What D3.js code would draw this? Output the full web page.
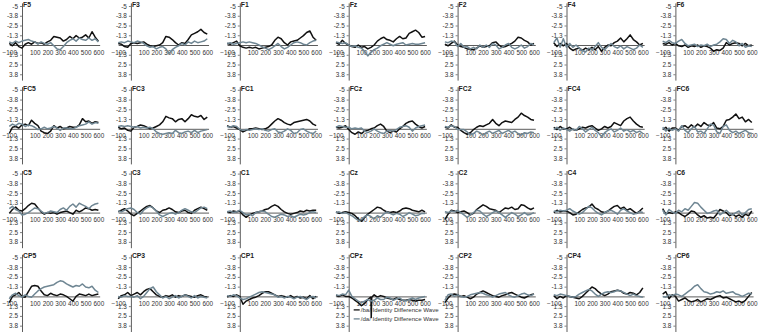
<!DOCTYPE html>
<html>
<head>
<meta charset="utf-8">
<script src="https://cdn.jsdelivr.net/npm/d3@7"></script>
<style>
  body { margin: 0; background: #fff; }
  svg { display: block; font-family: "Liberation Sans", Arial, sans-serif; }
</style>
</head>
<body>
<div id="chart"></div>
<script>
// electrode sites, row by row
const electrodes = [
    "F5", "F3", "F1", "Fz", "F2", "F4", "F6",
    "FC5", "FC3", "FC1", "FCz", "FC2", "FC4", "FC6",
    "C5", "C3", "C1", "Cz", "C2", "C4", "C6",
    "CP5", "CP3", "CP1", "CPz", "CP2", "CP4", "CP6"
];

// sample times (ms), every 25 ms from -100 to 600
const times = d3.range(-100, 601, 25);

const xTicks = [-100, 100, 200, 300, 400, 500, 600];
const yTicks = [-5, -3.75, -2.5, -1.25, 1.25, 2.5, 3.75];
const yTickLabels = ["-5", "-3.8", "-2.5", "-1.3", "1.3", "2.5", "3.8"];

const legendLabels = ["/ba/ Identity Difference Wave", "/da/ Identity Difference Wave"];

// /ba/ difference wave (black), one row per electrode
const baWaves = [
    [-0.2,0.1,-0.3,0.2,0.4,-0.1,-0.3,-0.1,-0.4,-0.2,-0.3,-0.1,-0.4,-0.6,-1.1,-1.0,-0.9,-0.5,-0.7,-1.1,-0.8,-1.2,-0.9,-1.0,-1.3,-0.9,-1.7,-1.0,-0.5], // F5
    [-0.2,-0.1,0.2,0.3,-0.2,-0.3,-0.2,-0.3,-0.4,-0.1,0.1,0.2,0.1,0,-0.3,-1.1,-1.0,-0.7,-0.3,0,-0.3,-0.2,-0.7,-1.3,-1.5,-1.7,-2.0,-1.6,-1.4], // F3
    [-0.2,-0.1,-0.3,-0.5,0.1,0.3,0.4,0.3,0.4,0.3,0.5,0.4,0.3,0.2,0,-0.6,-1.0,-0.8,-0.3,0,-0.4,-0.5,-0.6,-0.9,-1.2,-1.6,-1.8,-1.0,-0.6], // F1
    [-0.3,-0.1,-0.6,-0.2,0,0.2,0.3,0,0.3,0.2,0.5,0.3,0,-0.5,-0.8,-1.0,-0.7,-0.6,-0.4,-0.8,-1.1,-0.8,-0.9,-1.5,-1.7,-1.9,-1.6,-1.0,-1.1], // Fz
    [-0.1,0.1,-0.2,-0.5,0,0.2,0.3,0.5,0.5,0.6,0.4,0.1,0.3,0.2,0.1,-0.3,-0.4,0,0.3,0.2,0,-0.2,-0.5,-1.0,-0.9,-0.6,-0.4,0,-0.2], // F2
    [-0.3,0.2,-0.2,0.1,-0.2,0.4,0.7,0.5,0.4,0.7,0.4,0.6,0.3,0.6,0.2,0.8,0.3,0,0.1,-0.3,-0.5,-0.9,-0.4,-0.8,-1.3,-0.7,-0.4,0,-0.2], // F4
    [-0.2,-0.1,-0.3,0,-0.2,0.1,0.2,0,0.3,0.1,0.2,0,0.3,0.1,0.2,0.4,0.8,0.6,0.7,0.4,-0.3,0,-0.2,-0.3,-0.2,0.1,-0.2,0.1,0], // F6
    [0.6,-0.2,-0.3,-0.1,-0.5,-0.6,-0.4,-1.1,-0.7,-0.4,0.3,0.5,0.6,0.3,-0.4,-0.1,-0.3,0,-0.1,-0.3,-0.2,-0.2,-0.5,-1.3,-0.9,-1.0,-0.7,-0.9,-0.8], // FC5
    [-0.2,0,-0.1,0.2,0.3,-0.2,-0.3,-0.5,-0.4,-0.2,0,-0.1,-0.3,-0.5,-0.9,-1.6,-1.4,-1.3,-0.9,-1.2,-1.3,-0.9,-1.3,-1.8,-1.6,-1.5,-1.7,-1.2,-1.5], // FC3
    [-0.4,-0.2,-0.3,-0.1,0.1,0.4,0.2,0,0,-0.1,0,0.1,0,-0.2,-0.6,-1.0,-1.3,-1.1,-0.8,-0.6,-0.5,-0.8,-0.9,-1.0,-1.1,-1.2,-1.0,-0.6,-0.4], // FC1
    [-0.2,-0.1,-0.2,-0.4,0.1,0.5,0.7,0.4,0.6,0.3,0.2,0,-0.1,-0.4,-0.6,-0.3,0.3,0.5,0.3,0.4,0,-0.3,-0.7,-0.9,-1.0,-0.6,-0.3,-0.1,-0.3], // FCz
    [-0.2,-0.1,-0.5,-0.2,-0.2,0.2,0.5,0.7,0.5,0.1,-0.2,-0.4,-0.3,-0.5,-0.7,-1.2,-0.7,-0.4,-0.8,-1.0,-0.9,-0.8,-1.2,-1.5,-2.0,-1.7,-1.5,-1.2,-1.1], // FC2
    [-0.2,0.1,-0.3,0,0,-0.2,0.1,0.2,0,-0.2,-0.1,-0.3,-0.4,-0.1,0.2,0,-0.3,-0.1,-0.3,-0.8,-0.6,-0.4,-1.0,-1.3,-1.5,-1.0,-0.6,-0.3,-0.2], // FC4
    [0.1,-0.2,0.3,-0.1,-0.1,0.2,-0.3,-0.4,-0.1,-0.5,-0.2,-0.6,-0.3,-0.8,-0.5,-0.4,-0.8,-0.1,0,-0.3,-1.1,-1.2,-1.5,-1.9,-1.3,-1.5,-0.9,-1.2,-0.8], // FC6
    [0.1,-0.4,-0.7,-0.3,-0.2,-0.5,-0.9,-1.2,-1.1,-0.6,-0.1,0.2,0,0.1,0,0.2,0,-0.1,-0.2,0,0.2,-0.3,-0.1,-0.3,-0.6,-0.5,-0.3,-0.4,-0.3], // C5
    [-0.1,-0.3,-0.5,-0.2,0.2,0.4,0.1,-0.2,-0.5,-0.8,-0.9,-0.6,-0.2,0,-0.3,-0.4,-0.6,-0.4,-0.1,0,-0.2,-0.3,0,0.1,-0.3,-0.5,-0.7,-0.5,-0.3], // C3
    [-0.1,0,-0.2,-0.1,-0.2,0.3,0.6,0.3,0.1,0,-0.1,-0.2,-0.4,-0.5,-0.8,-1.0,-0.8,-0.4,-0.1,0.1,0.2,0.1,0,-0.2,-0.1,-0.3,-0.2,-0.3,-0.3], // C1
    [-0.1,0.1,0,-0.1,0,0.1,0.4,0.8,1.1,0.6,0.2,-0.1,-0.4,-0.7,-0.6,-0.3,-0.1,0,-0.1,0,-0.2,-0.5,-0.6,-0.5,-0.3,-0.2,-0.1,-0.3,-0.1], // Cz
    [0.9,0.2,-0.3,-0.2,0,-0.1,-0.2,0,0.3,0.1,-0.4,-0.7,-1.0,-0.8,-0.5,-0.4,-0.3,0,-0.3,-0.6,-0.5,-0.7,-0.4,-0.5,-1.0,-0.9,-0.6,-0.4,-0.6], // C2
    [0,-0.3,-0.1,-0.2,-0.2,0,0.3,0.2,-0.1,-0.4,-0.6,-0.7,-1.1,-0.6,-0.4,-0.1,0,-0.2,-0.5,-0.8,-0.9,-0.5,-0.7,-0.3,-0.5,-0.2,0.1,-0.2,-0.6], // C4
    [-0.5,0.2,0,0.1,-0.1,0,0.3,0.5,0.2,-0.2,-0.1,0.3,0.6,0.4,0.7,0.6,0.7,0.2,-0.4,-0.2,0,0.4,0.2,0.5,0.3,0.6,0.2,0.4,-0.2], // C6
    [0.8,0,-0.2,-0.5,0,0.1,-0.6,-1.3,-1.4,-1.3,-0.7,-0.2,-0.1,-0.4,-0.2,-0.1,-0.3,-0.2,0,0.3,0.6,0,-0.3,-0.2,-0.1,-0.3,-0.1,-0.2,-0.3], // CP5
    [0.3,-0.1,-0.2,-0.5,-0.1,-0.3,-0.5,-0.2,-0.6,-0.9,-1.0,-0.6,-0.2,0,0.1,-0.1,0,-0.2,0.1,-0.1,0,-0.2,-0.1,0,0.1,-0.1,-0.2,0,0.1], // CP3
    [0.1,-0.1,0,-0.2,0,1.0,0.6,0.4,0.2,0.1,-0.1,-0.4,-0.6,-0.6,-0.4,-0.2,0,-0.1,0,0.1,-0.1,0.2,0,0.2,0.1,0.3,-0.1,0.3,0], // CP1
    [-0.1,0,-0.2,0,0,0.2,0.5,0.8,1.2,0.9,0.4,0.1,-0.2,0.1,-0.1,0,0.2,0.3,0.4,0.2,0.4,0.5,0.5,0.4,0.5,0.6,0.5,0.5,0.4], // CPz
    [0.8,0.2,-0.2,-0.3,-0.2,0,-0.1,0.1,0.3,0.1,-0.3,-0.5,-0.7,-0.5,-0.3,-0.1,0,0.1,-0.1,-0.2,-0.4,-0.5,-0.3,-0.1,0.1,0.2,0,-0.2,-0.3], // CP2
    [-0.1,0.3,0,0.2,-0.1,0,0.1,0.2,0.3,0,-0.4,-0.8,-1.2,-1.0,-0.6,-0.3,-0.1,-0.3,-0.6,-0.7,-0.8,-0.7,-0.4,-0.3,-0.5,-0.4,-0.2,-0.5,-1.1], // CP4
    [-0.3,-0.6,0.3,-0.2,0,0.6,0.4,0.2,0.5,0.7,0.6,0.4,0.7,0.5,0.3,0.4,0.2,0,-0.1,0.2,0.1,0.3,0.5,0.7,0.6,0.8,0.5,0,-0.5]  // CP6
];

// /da/ difference wave (grey)
const daWaves = [
    [-0.4,-0.2,-0.5,-0.3,-0.5,-0.6,-0.7,-0.5,-0.4,-0.1,-0.4,-0.2,-0.1,-0.3,0.1,0.5,0.6,0.2,-0.3,-0.6,-0.8,-0.5,-0.9,-0.7,-0.6,-0.9,-0.6,-0.8,-0.4], // F5
    [-0.3,-0.4,-0.3,-0.5,-0.4,-0.3,-0.5,-0.4,-0.2,0.1,0.3,0.2,0.5,0.3,0.2,0.5,1.1,0.6,0.3,0.1,-0.2,0,-0.4,-0.2,-0.5,-0.3,-0.4,-0.5,-0.8], // F3
    [-0.2,-0.3,-0.1,-0.2,-0.3,-0.4,-0.3,-0.4,-0.3,-0.2,0,0.2,0.4,0.6,0.4,0.1,-0.2,0.2,0.5,0.3,0,-0.3,-0.4,-0.3,-0.1,0,-0.3,-0.5,-0.6], // F1
    [-0.4,-0.3,-0.2,-0.3,0,0.2,0.1,0.3,0.4,0.8,1.4,0.9,0.6,0.4,0.1,-0.1,-0.3,-0.1,0.1,-0.1,-0.2,-0.3,0,-0.1,-0.2,-0.1,-0.1,-0.2,-0.3], // Fz
    [-0.4,-0.3,-0.5,-0.4,0.2,-0.2,0.3,0.2,0.5,0.3,0.5,0,0.3,0,0.3,-0.2,0,0.5,0.3,0,-0.2,0.3,0.5,0.3,0,0.4,0.2,-0.2,0], // F2
    [-0.3,-0.9,0.3,-0.8,0.3,-0.2,0.3,0,0.4,0.7,0.9,0.4,0.6,0.2,-0.3,0.3,0.6,0.2,-0.2,0.2,0.4,0.1,0.5,0.2,0.4,0.6,0.4,0,0.3], // F4
    [-0.5,-0.3,-0.6,-0.3,-0.2,-0.5,-0.7,-0.2,0.1,0,-0.1,0.2,0,0.1,-0.1,0.2,0,-0.1,-0.4,-0.8,-0.7,-0.2,-0.6,-0.4,0.1,-0.2,0.3,0.1,0.2], // F6
    [-0.3,-0.6,-0.4,-0.7,-0.6,-0.3,-0.5,-0.4,-0.2,0.1,0,-0.2,0,-0.1,-0.3,-0.1,0.2,-0.1,-0.1,0,0,-0.2,-0.4,-0.5,-0.6,-0.9,-0.6,-0.8,-0.7], // FC5
    [-0.3,-0.4,-0.3,-0.4,-0.3,-0.2,-0.3,-0.1,-0.2,-0.1,-0.2,0,0.4,0.6,0.7,0.6,0.5,0.6,0.2,0.5,0.6,0.4,0.3,0.5,0.2,0.5,0.3,0.2,0.1], // FC3
    [-0.3,-0.2,-0.4,-0.3,0.1,0.2,0.1,0.2,0.1,0,0.1,0,0.2,0.3,0.1,0,0.4,0.5,0.3,0,0.2,0.6,0.5,0.1,0,0.3,0.5,0.6,0.3], // FC1
    [-0.2,-0.4,-0.3,-0.2,-0.2,0,-0.1,0,-0.1,0.3,0.5,0.3,0,0.3,0.5,0.6,0.3,0.2,0.3,0.1,-0.2,-0.3,-0.4,-0.2,0.3,-0.1,-0.3,-0.4,-0.5], // FCz
    [-0.3,-0.2,-0.4,-0.3,0.1,0.1,0.1,0.4,0.8,0.6,0.3,0.5,0.8,0.5,0.3,0.6,0.4,0.2,0.6,0.4,0.2,0.5,0.3,0.6,0.8,0.5,0.6,0.4,0.5], // FC2
    [0.1,-0.2,0.2,-0.1,0.1,0.3,0,0.2,-0.3,0,0.4,0.1,-0.2,0.2,0.5,1.0,0.5,0.2,0,0.4,0.2,-0.1,0.3,0.1,0.4,0.2,0.5,0.3,0.6], // FC4
    [-0.2,0.3,-0.1,0.2,0,0.3,-0.4,0.2,0.5,0,-0.3,0.4,0.3,0.6,0,-0.6,-0.5,0.4,0.6,-0.3,-0.5,0.2,0.5,0.3,0.6,0.4,0.2,0.5,0.6], // FC6
    [-0.5,-0.8,-0.4,-0.2,0.3,0.2,0,-0.3,-0.6,-0.5,-0.2,0.1,0,-0.2,-0.1,0,-0.4,-0.6,-0.3,-0.8,-1.1,-0.7,-1.2,-1.0,-0.8,-0.5,-0.9,-1.1,-1.2], // C5
    [-0.2,-0.1,-0.3,-0.5,-0.6,-0.4,0,0.2,-0.3,-0.6,-0.8,-0.6,-0.2,0.3,0.5,0.3,0.1,0,0.2,0,-0.3,-0.5,-0.3,-0.1,0,-0.3,-0.6,-0.7,-0.5], // C3
    [-0.1,-0.2,0,-0.1,-0.3,0,0.3,0.2,0.4,0,-0.1,-0.2,-0.1,0.2,0.5,0.6,0.4,0.2,0.3,0.5,0.4,0.6,0.4,0.2,0.3,0.2,0,-0.1,0], // C1
    [0,-0.1,0.1,0,0.2,0.4,0.7,1.0,0.9,0.5,0.3,0.5,0.8,0.4,0.6,0.2,-0.1,0.1,0.3,0.1,0.2,0.5,0.3,0,0.2,0.4,0.3,0.1,0.1], // Cz
    [-0.1,0,-0.2,-0.1,-0.3,0,0.3,0.6,0.3,0,-0.3,-0.2,0.2,0.5,0.3,0,-0.2,0,0.3,0.6,0.3,0,0.2,0.5,0.3,0,0.3,0.2,0], // C2
    [-0.2,-0.1,-0.3,-0.2,-0.3,-0.5,-0.2,0,0.2,0,-0.4,-0.8,-0.6,-0.2,0.1,0.3,0,-0.2,-0.3,-0.1,0.2,-0.3,-0.5,-0.2,0,0.2,0.1,-0.1,0], // C4
    [-0.3,0.3,-0.4,-0.1,0.1,-0.3,-0.1,-0.5,-0.3,-0.8,-1.3,-1.2,-0.7,-0.3,0.1,0,-0.2,-0.3,0.3,0,-0.3,0.1,0.3,0,-0.2,0.3,0,-0.4,-0.5], // C6
    [0.3,-0.2,-0.4,-0.1,0.1,-0.2,0,0.1,-0.3,-0.7,-1.0,-1.2,-1.3,-1.4,-1.5,-1.8,-2.0,-1.9,-1.6,-1.4,-1.2,-1.4,-1.3,-1.6,-1.2,-1.1,-1.3,-0.8,-0.5], // CP5
    [0,0.1,-0.1,0,0,0.1,-0.1,0.3,0,-0.5,-1.0,-1.2,-0.6,-0.2,0.2,0,0.3,0.1,-0.1,0.2,0,-0.2,0,0.2,-0.1,0.2,0,0.1,0.2], // CP3
    [-0.1,0,-0.2,-0.1,0.2,0.4,0.3,0.1,-0.1,-0.3,-0.5,-0.6,-0.5,-0.4,-0.3,-0.2,0.1,0,0.2,0,0.1,0.3,0.1,0,0.2,0.4,0.1,0,0.2], // CP1
    [-0.2,-0.1,-0.3,-0.2,-0.8,0,0.3,0.6,0.8,0.6,0.4,0.6,0.5,0.2,0.4,0.4,0.1,0.2,0.5,0.3,0.2,0.5,0.6,0.4,0.2,0.4,0.2,0.1,0], // CPz
    [0.5,-0.2,-0.3,0,-0.2,0,0.1,0,-0.2,-0.3,-0.4,-0.5,-0.4,-0.2,-0.1,0.1,-0.1,-0.3,-0.4,-0.5,-0.2,0,0.1,-0.1,-0.3,-0.4,-0.2,-0.1,-0.3], // CP2
    [-0.2,-0.1,-0.3,-0.2,-0.1,0,0.1,0,-0.3,-0.5,-0.7,-0.9,-0.7,-0.3,0,-0.3,-0.5,-0.6,-0.5,-0.6,-0.8,-0.7,-0.5,-0.3,-0.1,-0.3,-0.1,0,0.1], // CP4
    [0,0.1,-0.2,-0.1,-0.3,-0.2,0,-0.3,-0.6,-0.9,-1.3,-1.5,-1.0,-0.6,-0.5,-0.3,-0.4,-0.6,-0.5,-0.7,-0.4,-0.5,-0.6,-0.3,-0.2,0,-0.2,-0.4,-0.3]  // CP6
];

// narrow artefact in the CPz /ba/ trace, [ms, value]
const cpzBaSpike = [[173, 0.1], [177, 2.7], [181, 0.1]];

const W = 763, H = 333;
const colX0 = 22, colStep = 108.9;   // y-axis position of each column
const rowY0 = 45, rowStep = 83.8;    // zero line of each row
const pxPerUnit = 7.8, pxPerMs = 0.1273;

const svg = d3.select("#chart")
    .append("svg")
    .attr("width", W)
    .attr("height", H);

const x = d3.scaleLinear()
    .domain([-100, 610])
    .range([-100 * pxPerMs, 610 * pxPerMs]);

const y = d3.scaleLinear()
    .domain([-5.4, 4.5])
    .range([-5.4 * pxPerUnit, 4.5 * pxPerUnit]);

const line = d3.line()
    .x(d => x(d[0]))
    .y(d => y(d[1]));

const axisColor = "#4a4a4a";
const baColor = "#111111";
const daColor = "#6f8693";

electrodes.forEach((name, i) => {
    const col = i % 7, row = Math.floor(i / 7);
    const g = svg.append("g")
        .attr("transform", `translate(${colX0 + col * colStep},${rowY0 + row * rowStep})`);

    // x axis along zero
    const xa = g.append("g")
        .attr("transform", `translate(0,${y(0)})`)
        .call(d3.axisBottom(x).tickValues(xTicks).tickSize(0).tickPadding(5));
    xa.select(".domain").attr("stroke", axisColor).attr("stroke-width", 0.9);
    xa.selectAll("text").attr("font-size", 6.4).attr("fill", "#333").attr("font-family", null);

    // y axis
    const ya = g.append("g")
        .call(d3.axisLeft(y).tickValues(yTicks).tickFormat((d, k) => yTickLabels[k])
            .tickSize(2).tickSizeOuter(0).tickPadding(2));
    ya.select(".domain").attr("stroke", axisColor).attr("stroke-width", 0.9);
    ya.selectAll("line").attr("stroke", axisColor).attr("stroke-width", 0.7);
    ya.selectAll("text").attr("font-size", 6.4).attr("fill", "#333").attr("font-family", null);

    // waves
    let ba = times.map((t, k) => [t, baWaves[i][k]]);
    if (name === "CPz") ba = ba.concat(cpzBaSpike).sort((a, b) => a[0] - b[0]);
    const da = times.map((t, k) => [t, daWaves[i][k]]);

    g.append("path")
        .attr("d", line(ba))
        .attr("fill", "none")
        .attr("stroke", baColor)
        .attr("stroke-width", 1.5)
        .attr("stroke-linejoin", "round");

    g.append("path")
        .attr("d", line(da))
        .attr("fill", "none")
        .attr("stroke", daColor)
        .attr("stroke-width", 1.5)
        .attr("stroke-linejoin", "round");

    // electrode label
    g.append("text")
        .attr("x", 1)
        .attr("y", -38)
        .attr("font-size", 6.8)
        .attr("font-weight", "bold")
        .attr("fill", "#222")
        .text(name);

    // legend sits inside the CPz panel
    if (name === "CPz") {
        const lg = g.append("g").attr("transform", "translate(5,13.5)");
        [baColor, daColor].forEach((c, k) => {
            lg.append("line")
                .attr("x1", 0).attr("x2", 6)
                .attr("y1", k * 9).attr("y2", k * 9)
                .attr("stroke", c).attr("stroke-width", 1.3);
            lg.append("text")
                .attr("x", 7)
                .attr("y", k * 9)
                .attr("dy", "0.35em")
                .attr("font-size", 6.1)
                .attr("fill", "#333")
                .text(legendLabels[k]);
        });
    }
});
</script>
</body>
</html>
